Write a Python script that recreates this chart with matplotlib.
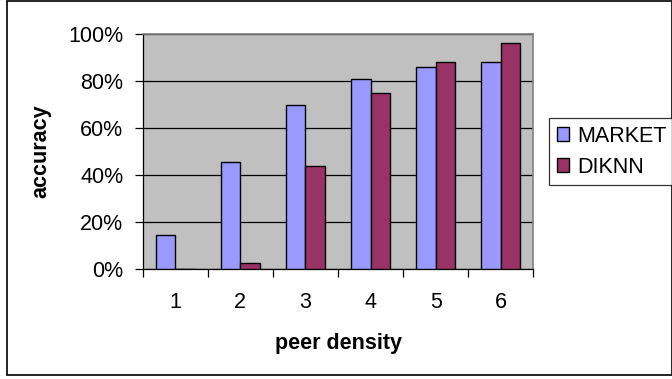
import matplotlib.pyplot as plt
import numpy as np
from matplotlib.patches import Rectangle, Patch
from matplotlib.ticker import FixedLocator, PercentFormatter

plt.rcParams['font.family'] = ['Liberation Sans', 'DejaVu Sans']

# peer density vs accuracy (%)
density = [1, 2, 3, 4, 5, 6]
market = [14.5, 45.8, 70, 81, 86, 88.2]
diknn = [0, 2.6, 44, 75, 88.2, 96]

FS = 15.5

fig = plt.figure(figsize=(6.72, 3.79), dpi=100)
ax = fig.add_axes([0.2124, 0.2894, 0.5812, 0.6209])
ax.set_facecolor('#C0C0C0')

x = np.arange(len(density)) + 1
w = 0.3
ax.bar(x - w / 2, market, w, color='#9999FF', edgecolor='black', linewidth=1.0, zorder=3)
ax.bar(x + w / 2, diknn, w, color='#993366', edgecolor='black', linewidth=1.0, zorder=3)

ax.set_xlim(0.5, 6.5)
ax.set_ylim(0, 100)
ax.set_yticks(np.arange(0, 101, 20))
ax.yaxis.set_major_formatter(PercentFormatter(decimals=0))
ax.yaxis.grid(True, color='black', linewidth=0.9, zorder=1)

# category labels sit between the boundary ticks
ax.set_xticks(np.arange(0.5, 6.6, 1))
ax.set_xticklabels([])
ax.xaxis.set_minor_locator(FixedLocator(x))
ax.set_xticklabels([str(d) for d in density], minor=True)
ax.tick_params(axis='x', which='minor', length=0, pad=16, labelsize=FS)
ax.tick_params(axis='x', which='major', length=6, width=0.9)
ax.tick_params(axis='y', length=6, width=0.9, pad=8, labelsize=FS)

for side in ['top', 'right']:
    ax.spines[side].set_color('#808080')
    ax.spines[side].set_linewidth(1.2)
for side in ['left', 'bottom']:
    ax.spines[side].set_color('black')
    ax.spines[side].set_linewidth(0.9)

ax.set_xlabel('peer density', fontsize=FS, fontweight='bold', labelpad=15)
ax.set_ylabel('accuracy', fontsize=FS, fontweight='bold', labelpad=12)

handles = [Patch(facecolor='#9999FF', edgecolor='black', label='MARKET'),
           Patch(facecolor='#993366', edgecolor='black', label='DIKNN')]
leg = fig.legend(handles=handles, loc='upper left', bbox_to_anchor=(549 / 672, 1 - 118 / 379),
                 fontsize=FS, frameon=True, fancybox=False, handlelength=0.6, handleheight=0.6,
                 handletextpad=0.37, borderpad=0.35, labelspacing=0.48, borderaxespad=0)
leg.get_frame().set_edgecolor('black')
leg.get_frame().set_linewidth(0.9)

# outer chart border
fig.patches.append(Rectangle((7 / 672, 4 / 379), 0.99, 374 / 379, transform=fig.transFigure,
                             fill=False, edgecolor='black', linewidth=1.2))

fig.savefig('out.png', dpi=100)
